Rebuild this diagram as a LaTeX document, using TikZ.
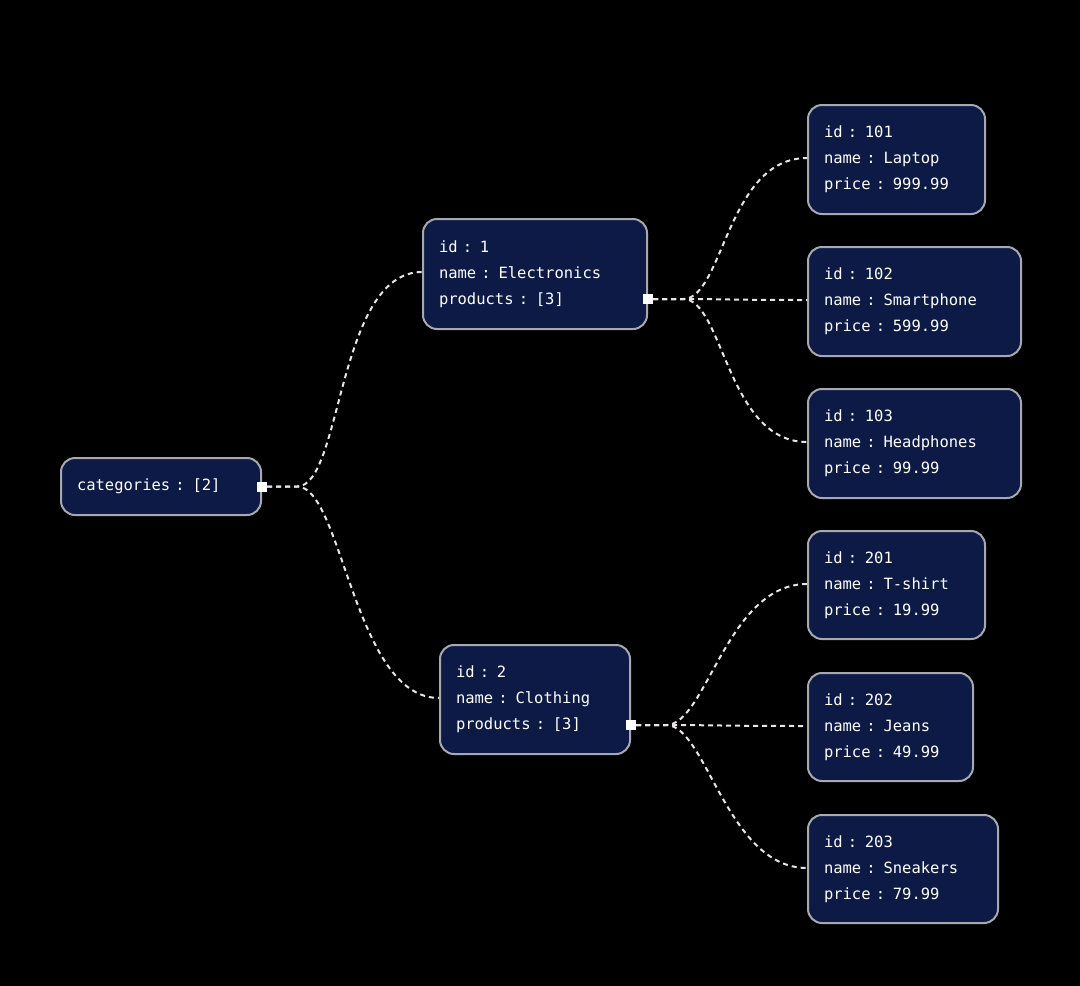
\documentclass[tikz,border=0pt]{standalone}
\usepackage{fontspec}
\setmonofont{DejaVu Sans Mono}
\usetikzlibrary{calc}
\definecolor{boxfill}{HTML}{0C1A45}
\definecolor{boxline}{HTML}{A8A8B0}
\definecolor{linkc}{HTML}{E8E4E8}
\tikzset{
  rec/.style={draw=boxline,line width=2pt,fill=boxfill,rounded corners=14pt,text=white,
    font=\ttfamily\fontsize{15.5}{26}\selectfont,align=left,inner xsep=16pt,inner ysep=0pt,anchor=north west},
  link/.style={draw=linkc,line width=2pt,dash pattern=on 5pt off 4pt},
  sq/.style={fill=white,minimum size=10pt,inner sep=0pt}
}
\newcommand{\rb}[6]{% name, x1,y1,x2,y2,text
  \node[rec,minimum width=#4-#2,minimum height=#5-#3,text width=#4-#2-32] (#1) at (#2,#3) {#6};}
\begin{document}
\begin{tikzpicture}[x=1pt,y=-1pt]
\fill[black] (0,0) rectangle (1080,986);
\useasboundingbox (0,0) rectangle (1080,986);
\rb{cat}{60}{457}{260}{514}{categories : [2]}
\rb{el}{422}{218}{646}{328}{id : 1\\name : Electronics\\products : [3]}
\rb{cl}{439}{644}{629}{753}{id : 2\\name : Clothing\\products : [3]}
\rb{p1}{807}{104}{984}{213}{id : 101\\name : Laptop\\price : 999.99}
\rb{p2}{807}{246}{1020}{355}{id : 102\\name : Smartphone\\price : 599.99}
\rb{p3}{807}{388}{1020}{497}{id : 103\\name : Headphones\\price : 99.99}
\rb{p4}{807}{530}{984}{638}{id : 201\\name : T-shirt\\price : 19.99}
\rb{p5}{807}{672}{972}{780}{id : 202\\name : Jeans\\price : 49.99}
\rb{p6}{807}{814}{997}{922}{id : 203\\name : Sneakers\\price : 79.99}
\foreach \n in {el,cl,p1,p2,p3,p4,p5,p6}{\coordinate (\n in) at ($(\n.north west)+(0,54)$);}
\node[sq] (scat) at (cat.east) {};
\node[sq] (sel) at ($(el.north east)+(0,81)$) {};
\node[sq] (scl) at ($(cl.north east)+(0,81)$) {};
\foreach \s/\t in {scat/el,scat/cl}{
  \draw[link] (\s.east) -- ++(30,0) coordinate (b) .. controls ($(b)+(45,0)$) and ($(\t in)+(-85,0)$) .. (\t in);}
\foreach \s/\t in {sel/p1,sel/p2,sel/p3,scl/p4,scl/p5,scl/p6}{
  \draw[link] (\s.east) -- ++(30,0) coordinate (b) .. controls ($(b)+(40,0)$) and ($(\t in)+(-80,0)$) .. (\t in);}
\node[sq] at (scat) {};\node[sq] at (sel) {};\node[sq] at (scl) {};
\end{tikzpicture}
\end{document}
